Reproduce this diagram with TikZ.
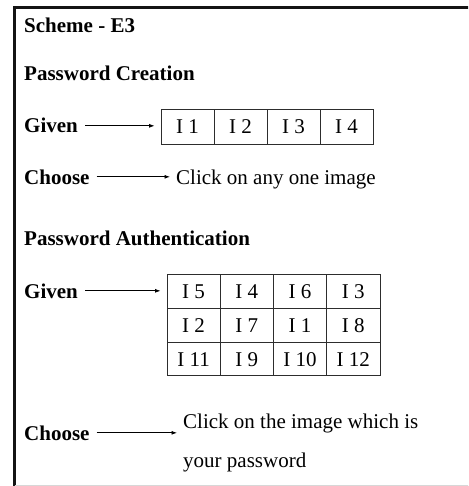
\documentclass[tikz,border=0pt]{standalone}
\usepackage{fontspec}
\setmainfont{Liberation Serif}
\usetikzlibrary{
  arrows.meta,
  positioning
}
\definecolor{framecolor}{RGB}{20, 20, 20}
\definecolor{gridcolor}{RGB}{45, 45, 45}
\definecolor{bottomcolor}{RGB}{215, 215, 215}
\tikzset{
headtext/.style={
  font=\bfseries\fontsize{21}{25}\selectfont,
  anchor=base west,
  inner sep=0pt
},
plaintext/.style={
  font=\fontsize{21}{39}\selectfont,
  inner sep=0pt
},
imgcell/.style={
  draw=gridcolor,
  line width=0.9pt,
  minimum width=53pt,
  minimum height=35pt,
  inner sep=0pt,
  text height=14pt,
  text depth=0pt,
  font=\fontsize{21}{25}\selectfont
},
gridcell/.style={
  imgcell,
  minimum width=53.25pt,
  minimum height=33.67pt
},
arrow/.style={
  -{Latex[length=5.5pt,width=4pt]},
  line width=0.8pt,
  shorten <=7pt,
  shorten >=6pt
}
}

\begin{document}
\begin{tikzpicture}[x=1pt,y=-1pt]
        \useasboundingbox (0,0) rectangle (468,486);
        \clip (0,0) rectangle (468,486);
        % frame
        \draw[framecolor, line width=2.2pt] (14.5,490) -- (14.5,7.5) -- (480,7.5);
        \draw[bottomcolor, line width=1pt] (14.5,485.5) -- (480,485.5);

        \node[headtext] (scheme) at (24,33) {Scheme - E3};

        % creation
        \node[headtext] (creation) at (24,81) {Password Creation};
        \node[headtext] (given1) at (24,133) {Given};
        \foreach \lbl [count=\i] in {1,2,3,4}
          \node[imgcell] (a\i) at (134.5+53*\i,126.5) {I \lbl};
        \draw[arrow] (given1.east) -- (given1.east -| a1.west);
        \node[headtext] (choose1) at (24,184) {Choose};
        \node[plaintext, anchor=base west] (click1) at (176,184) {Click on any one image};
        \draw[arrow] (choose1.east) -- (choose1.east -| click1.west);

        % authentication
        \node[headtext] (auth) at (24,245) {Password Authentication};
        \node[headtext] (given2) at (24,298) {Given};
        \foreach \row [count=\r] in {{5,4,6,3},{2,7,1,8},{11,9,10,12}}
          \foreach \lbl [count=\c] in \row
            \node[gridcell] (b\r\c) at (140.35+53.25*\c,258.1+33.67*\r) {I \lbl};
        \draw[arrow] (given2.east) -- (given2.east -| b11.west);
        \node[headtext] (choose2) at (24,440) {Choose};
        \node[plaintext, anchor=north west, align=left] (click2) at (183,413.5)
          {Click on the image which is\\your password};
        \draw[arrow] (choose2.east) -- (choose2.east -| click2.west);
      \end{tikzpicture}
\end{document}
